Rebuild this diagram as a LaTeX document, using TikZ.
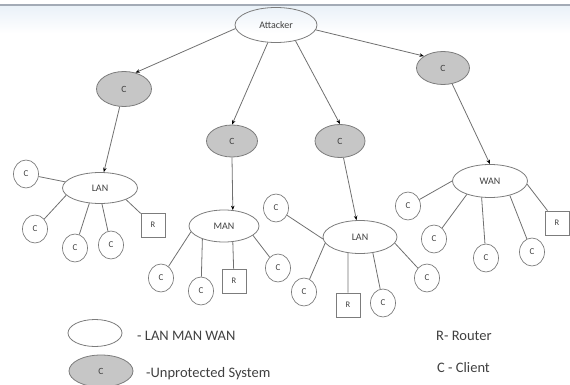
\documentclass[tikz,border=0pt]{standalone}
\usepackage{fontspec}
\setmainfont{Carlito}
\usetikzlibrary{shapes.geometric,arrows.meta}
\definecolor{edgec}{HTML}{707070}
\definecolor{bord}{HTML}{7C7C7C}
\definecolor{shadec}{HTML}{C6C6C6}
\definecolor{txt}{HTML}{404040}
\definecolor{band}{HTML}{E9F1F8}
\definecolor{bandline}{HTML}{A3ABB6}
\begin{document}
\begin{tikzpicture}[x=1pt,y=-1pt,
  netnode/.style={ellipse,draw=bord,line width=0.8pt,inner sep=0pt,font=\fontsize{10}{10}\selectfont,text=txt},
  unprot/.style={ellipse,draw=bord,fill=shadec,line width=0.8pt,inner sep=0pt,minimum width=52,minimum height=33,font=\fontsize{9.5}{10}\selectfont,text=txt},
  client/.style={ellipse,draw=bord,line width=0.7pt,inner sep=0pt,minimum width=25,minimum height=28,font=\fontsize{9}{9}\selectfont,text=txt},
  router/.style={rectangle,draw=bord,line width=0.7pt,inner sep=0pt,minimum size=24,font=\fontsize{8.5}{9}\selectfont,text=txt},
  arr/.style={draw=edgec,line width=0.8pt,-{Stealth[length=4.5pt,width=3.5pt,color=black]}},
  link/.style={draw=edgec,line width=0.8pt},
  legendtext/.style={anchor=west,inner sep=0pt,font=\fontsize{14.5}{15}\selectfont,text=txt}]
\useasboundingbox (0,0) rectangle (570,385);
% top band
\shade[top color=band,bottom color=white] (0,5) rectangle (570,33);
\draw[bandline,line width=1.2pt] (0,5) -- (570,5);

% main nodes
\node[netnode,minimum width=82,minimum height=35] (att) at (276,25) {Attacker};
\node[unprot,minimum width=55,minimum height=35] (u1) at (124,89) {C};
\node[unprot,minimum width=51,minimum height=32] (u2) at (232,141) {C};
\node[unprot,minimum width=50,minimum height=33] (u3) at (340,141) {C};
\node[unprot,minimum width=53,minimum height=33] (u4) at (443,68) {C};
\node[netnode,minimum width=75,minimum height=31] (lan1) at (100,188) {LAN};
\node[netnode,minimum width=70,minimum height=32] (man) at (224,226) {MAN};
\node[netnode,minimum width=74,minimum height=33] (lan2) at (360,237) {LAN};
\node[netnode,minimum width=75,minimum height=33] (wan) at (490,181) {WAN};

% clients and routers
\node[client] (c1) at (26,174) {C};
\node[client] (c2) at (35,229) {C};
\node[client] (c3) at (75,248) {C};
\node[client] (c4) at (111,245) {C};
\node[router] (r1) at (153,225) {R};
\node[client] (c5) at (161,278) {C};
\node[client] (c6) at (201,291) {C};
\node[router] (r2) at (234,281) {R};
\node[client] (c7) at (278,268) {C};
\node[client] (c8) at (276,208) {C};
\node[client] (c9) at (304,292) {C};
\node[router] (r3) at (348,305) {R};
\node[client] (c10) at (383,303) {C};
\node[client] (c11) at (427,278) {C};
\node[client] (c12) at (408,206) {C};
\node[client] (c13) at (434,239) {C};
\node[client] (c14) at (486,258) {C};
\node[client] (c15) at (532,252) {C};
\node[router] (r4) at (557,223) {R};

% arrows
\draw[arr] (att.185) -- (u1.55);
\draw[arr] (att.245) -- (u2.north);
\draw[arr] (att.321) -- (u3.north);
\draw[arr] (att.353) -- (u4.148);
\draw[arr] (u1) -- (lan1);
\draw[arr] (u2.south) -- (man.61);
\draw[arr] (u3) -- (lan2);
\draw[arr] (u4.300) -- (wan.90);

% links
\draw[link] (lan1.170) -- (c1);
\draw[link] (lan1.192) -- (c2);
\draw[link] (lan1.235) -- (c3);
\draw[link] (lan1.277) -- (c4);
\draw[link] (lan1.336) -- (r1);
\draw[link] (man.190) -- (c5);
\draw[link] (man.211) -- (c6);
\draw[link] (man.299) -- (r2);
\draw[link] (man.342) -- (c7);
\draw[link] (lan2.183) -- (c8);
\draw[link] (lan2.190) -- (c9);
\draw[link] (lan2.233) -- (r3);
\draw[link] (lan2.309) -- (c10);
\draw[link] (lan2.350) -- (c11);
\draw[link] (wan.180) -- (c12);
\draw[link] (wan.210) -- (c13);
\draw[link] (wan.243) -- (c14);
\draw[link] (wan.324) -- (c15);
\draw[link] (wan.355) -- (r4);

% legend
\node[netnode,minimum width=54,minimum height=27] (lg1) at (95,333) {};
\node[unprot,minimum width=64,minimum height=32] (lg2) at (101,371) {C};
\node[legendtext] (lt1) at (137,336) {- LAN MAN WAN};
\node[legendtext] (lt2) at (146,374) {-Unprotected System};
\node[legendtext] (lt3) at (436,336) {R- Router};
\node[legendtext] (lt4) at (437,368) {C - Client};
\end{tikzpicture}
\end{document}
